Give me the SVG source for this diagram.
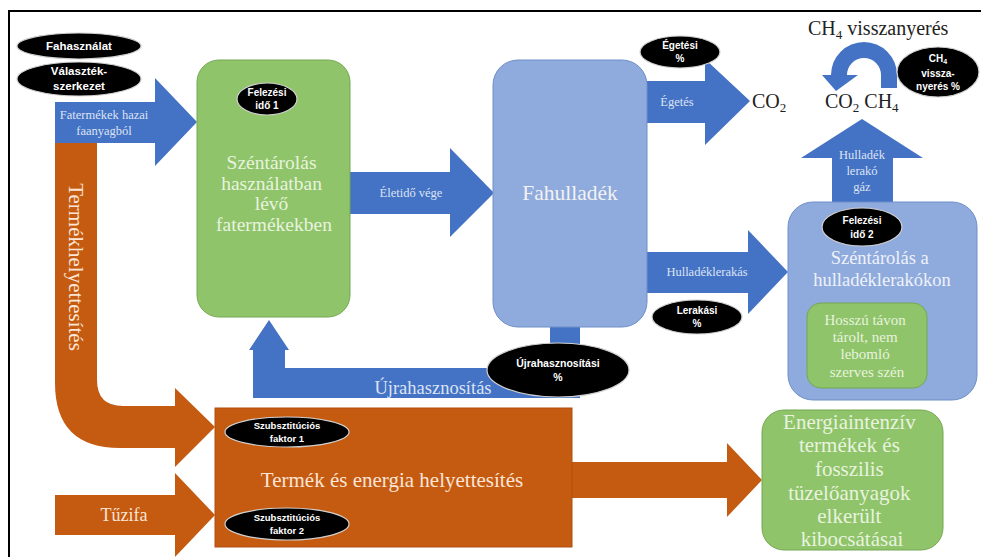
<svg xmlns="http://www.w3.org/2000/svg" width="981" height="557" viewBox="0 0 981 557">
<style>
.blue{fill:#4472c4}
.orange{fill:#c55a11}
.gbox{fill:#8fc46a;stroke:#74a852;stroke-width:1}
.bbox{fill:#8faadc;stroke:#6f8fc8;stroke-width:1}
.ell{fill:#000;stroke:#d0d0d0;stroke-width:1.2}
.et{font-family:"Liberation Sans",Arial,sans-serif;font-weight:bold;fill:#fff;text-anchor:middle}
.sl{font-family:"Liberation Serif","Times New Roman",serif;font-size:12.5px;fill:#dce4f4;text-anchor:middle}
.big{font-family:"Liberation Serif","Times New Roman",serif;text-anchor:middle}
.chem{font-family:"Liberation Serif","Times New Roman",serif;font-size:20px;fill:#222}
</style>
<rect x="0" y="0" width="981" height="557" fill="#fff"/>
<rect x="9" y="11" width="990" height="570" fill="none" stroke="#000" stroke-width="2"/>

<g id="connectors">
  <polygon id="arrow-fatermekek" class="blue" points="55,102 155,102 155,78 197,122 155,166 155,143 55,143"/>
  <path id="arrow-termekhely" class="orange" d="M55,143 L97,143 L97,380 Q97,406 123,406 L175,406 L175,388 L215,427 L175,467 L175,448 L120,448 Q55,448 55,383 Z"/>
  <polygon id="arrow-tuzifa" class="orange" points="55,495 175,495 175,473 215,515 175,557 175,535 55,535"/>
  <polygon id="arrow-helyettesites" class="orange" points="570,462 727,462 727,443 762,480 727,517 727,498 570,498"/>
  <polygon id="arrow-eletido" class="blue" points="350,172 450,172 450,148 494,193 450,237 450,214 350,214"/>
  <polygon id="arrow-egetes" class="blue" points="647,81 705,81 705,59 750,101 705,145 705,123 647,123"/>
  <polygon id="arrow-hulladeklerakas" class="blue" points="647,252 748,252 748,230 788,272 748,314 748,293 647,293"/>
  <polygon id="arrow-gaz" class="blue" points="832,203 832,158 801,158 862,119 923,158 893,158 893,203"/>
  <path id="arrow-ujra" class="blue" d="M550,326 L580,326 L580,398 L253,398 L253,350 L249,350 L269,320 L289,350 L285,350 L285,368 L550,368 Z"/>
  <path id="arrow-ch4" fill="#4472c4" d="M897,88 L897,75 A33,33 0 0 0 831,75 L822,75 L836,91 L858,75 L847,75 A17,17 0 0 1 881,75 L881,88 Z"/>
  <text class="sl" x="104" y="119">Fatermékek hazai</text>
  <text class="sl" x="104" y="135">faanyagból</text>
  <text class="sl" x="411" y="197">Életidő vége</text>
  <text class="sl" x="677" y="106">Égetés</text>
  <text class="sl" x="707" y="276">Hulladéklerakás</text>
  <text class="sl" x="862" y="159">Hulladék</text>
  <text class="sl" x="862" y="175">lerakó</text>
  <text class="sl" x="862" y="191">gáz</text>
  <text class="big" x="433" y="394" font-size="18.5" fill="#dce4f4">Újrahasznosítás</text>
  <text class="big" transform="translate(69,267) rotate(90)" font-size="21" fill="#fbe5d6">Termékhelyettesítés</text>
  <text class="big" x="124" y="521" font-size="18" fill="#fbe5d6">Tűzifa</text>
</g>

<g id="node-fahasznalat">
  <ellipse class="ell" cx="79" cy="46" rx="62" ry="13"/>
  <text class="et" x="79" y="50" font-size="11.5">Fahasználat</text>
</g>
<g id="node-valasztek">
  <ellipse class="ell" cx="79" cy="79" rx="62" ry="17"/>
  <text class="et" x="79" y="75" font-size="11.5">Választék-</text>
  <text class="et" x="79" y="90" font-size="11.5">szerkezet</text>
</g>

<g id="node-szentarolas-hasznalat">
  <rect class="gbox" x="197" y="60" width="153" height="257" rx="22"/>
  <text class="big" font-size="19.5" fill="#e8f3df">
    <tspan x="274" y="169">Széntárolás</tspan>
    <tspan x="274" y="189.5">használatban</tspan>
    <tspan x="274" y="210">lévő</tspan>
    <tspan x="274" y="230.5">fatermékekben</tspan>
  </text>
</g>
<g id="node-felezesi1">
  <ellipse class="ell" cx="267" cy="99" rx="30" ry="16"/>
  <text class="et" x="267" y="96" font-size="10">Felezési</text>
  <text class="et" x="267" y="109" font-size="10">idő 1</text>
</g>

<g id="node-fahulladek">
  <rect class="bbox" x="493" y="60" width="154" height="267" rx="25"/>
  <text class="big" x="570" y="200" font-size="21.5" fill="#f2f2f2">Fahulladék</text>
</g>

<g id="node-egetesi">
  <ellipse class="ell" cx="680" cy="52" rx="40" ry="16"/>
  <text class="et" x="680" y="49" font-size="10">Égetési</text>
  <text class="et" x="680" y="62" font-size="10">%</text>
</g>

<g id="node-co2">
  <text class="chem" x="752" y="108">CO<tspan font-size="13" dy="4">2</tspan></text>
</g>
<g id="node-co2-ch4">
  <text class="chem" x="825" y="108">CO<tspan font-size="13" dy="4">2</tspan><tspan dy="-4"> CH</tspan><tspan font-size="13" dy="4">4</tspan></text>
</g>
<g id="node-ch4-title">
  <text class="chem" x="808" y="35">CH<tspan font-size="13" dy="4">4</tspan><tspan dy="-4"> visszanyerés</tspan></text>
</g>
<g id="node-ch4-ell">
  <ellipse class="ell" cx="938" cy="72" rx="41" ry="25"/>
  <text class="et" x="938" y="62" font-size="10">CH<tspan font-size="7" dy="2">4</tspan></text>
  <text class="et" x="938" y="77" font-size="10">vissza-</text>
  <text class="et" x="938" y="90" font-size="10">nyerés %</text>
</g>

<g id="node-lerakasi">
  <ellipse class="ell" cx="697" cy="317" rx="45" ry="17"/>
  <text class="et" x="697" y="314" font-size="10">Lerakási</text>
  <text class="et" x="697" y="327" font-size="10">%</text>
</g>

<g id="node-szentarolas-lerako">
  <rect class="bbox" x="788" y="202" width="189" height="198" rx="25"/>
  <text class="big" font-size="18.5" fill="#eef2fa">
    <tspan x="882" y="264">Széntárolás a</tspan>
    <tspan x="882" y="286">hulladéklerakókon</tspan>
  </text>
</g>
<g id="node-felezesi2">
  <ellipse class="ell" cx="862" cy="227" rx="40" ry="19"/>
  <text class="et" x="862" y="224" font-size="10">Felezési</text>
  <text class="et" x="862" y="238" font-size="10">idő 2</text>
</g>
<g id="node-hosszu">
  <rect class="gbox" x="807" y="303" width="120" height="85" rx="14"/>
  <text class="big" font-size="15" fill="#e8f3df">
    <tspan x="867" y="325">Hosszú távon</tspan>
    <tspan x="867" y="342">tárolt, nem</tspan>
    <tspan x="867" y="359">lebomló</tspan>
    <tspan x="867" y="377">szerves szén</tspan>
  </text>
</g>

<g id="node-ujrahasznositasi">
  <ellipse class="ell" cx="558" cy="370" rx="71" ry="27"/>
  <text class="et" x="558" y="367" font-size="10.5">Újrahasznosítási</text>
  <text class="et" x="558" y="381" font-size="10.5">%</text>
</g>

<g id="node-termek-energia">
  <rect x="215" y="408" width="357" height="139" fill="#c55a11" stroke="#b04f0e" stroke-width="1"/>
  <text class="big" x="392" y="487" font-size="21" fill="#fbe5d6">Termék és energia helyettesítés</text>
</g>
<g id="node-szubsz1">
  <ellipse class="ell" cx="287" cy="432" rx="62" ry="15"/>
  <text class="et" x="287" y="429" font-size="9.5">Szubsztitúciós</text>
  <text class="et" x="287" y="442" font-size="9.5">faktor 1</text>
</g>
<g id="node-szubsz2">
  <ellipse class="ell" cx="287" cy="524" rx="62" ry="16"/>
  <text class="et" x="287" y="521" font-size="9.5">Szubsztitúciós</text>
  <text class="et" x="287" y="534" font-size="9.5">faktor 2</text>
</g>

<g id="node-energiaintenziv">
  <rect class="gbox" x="762" y="410" width="181" height="140" rx="22"/>
  <text class="big" font-size="21" fill="#e8f3df">
    <tspan x="852" y="429">Energiaintenzív</tspan>
    <tspan x="852" y="452">termékek és</tspan>
    <tspan x="852" y="476">fosszilis</tspan>
    <tspan x="852" y="500">tüzelőanyagok</tspan>
    <tspan x="852" y="523">elkerült</tspan>
    <tspan x="852" y="546">kibocsátásai</tspan>
  </text>
</g>
</svg>
